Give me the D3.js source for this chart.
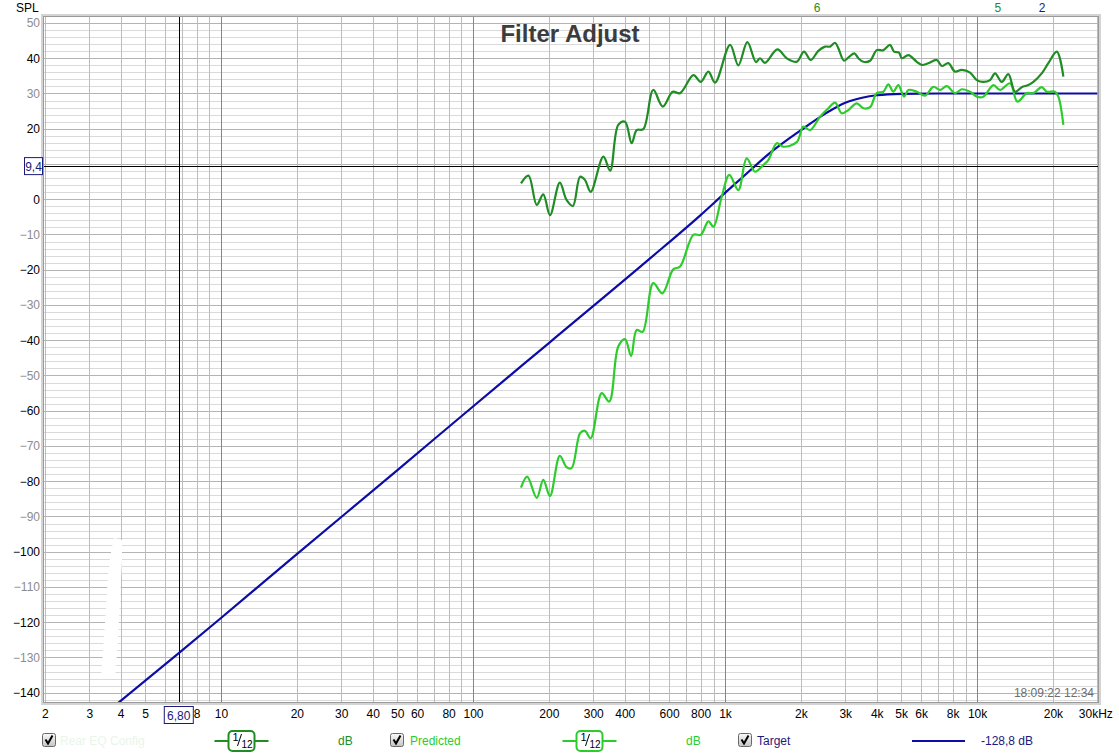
<!DOCTYPE html>
<html><head><meta charset="utf-8">
<script src="https://cdn.jsdelivr.net/npm/d3@7"></script>
<style>body{margin:0;background:#fff;} svg{display:block;font-family:"Liberation Sans",Arial,sans-serif;}</style>
</head><body><svg id="c" width="1119" height="755"></svg>
<script>
// ---------- data ----------
const measFreq = [155,166,179,190,202,221,235,249,266,278,293,329,350,377,401,426,446,474,519,566,620,663,749,801,859,913,1047,1129,1226,1327,1377,1441,1613,1757,1925,2058,2188,2345,2494,2611,2733,2817,2967,3106,3260,3381,3539,3762,3999,4248,4516,4684,4903,5026,5339,5764,6034,6407,6920,7244,7692,8176,8697,9380,9972,10590,11260,11790,12530,13310,14150,15040,15980,16730,18060,19180,20720,22000];
const measDb = [4.5,6.7,-1.6,1.4,-4.5,4.7,-0.2,-1.9,6.4,5.5,2.1,12.1,8.1,21.1,22.0,15.9,19.6,19.9,31.0,26.3,30.5,30.1,35.2,33.3,36.2,33.1,43.8,38.0,44.6,38.9,40.0,38.7,42.5,40.0,39.0,41.9,39.5,42.1,43.3,43.3,44.4,42.8,39.3,40.4,41.4,40.0,39.0,39.3,42.3,42.3,43.8,41.9,41.6,40.0,40.9,39.0,38.1,38.6,39.5,37.8,38.6,36.2,36.7,35.9,33.8,33.3,33.8,35.7,33.3,35.5,30.5,31.8,32.4,33.3,35.7,38.6,41.9,34.8];

const predFreq = [155,164,179,190,202,221,235,246,266,278,293,324,347,377,401,424,446,471,519,564,623,663,749,801,859,899,970,1040,1129,1219,1315,1419,1485,1604,1703,1925,2045,2175,2382,2570,2733,2905,3085,3331,3539,3762,3999,4248,4446,4655,4873,5132,5339,5764,6219,6708,7133,7583,8176,8697,9380,9972,10590,11610,12340,13520,14450,15750,16730,18060,18910,20390,21020,22000];
const predDb = [-81.8,-78.7,-84.7,-79.6,-84.2,-72.8,-76.0,-76.3,-66.4,-65.7,-67.8,-55.0,-57.4,-41.8,-39.7,-44.5,-37.1,-37.6,-23.8,-26.7,-19.9,-19.1,-10.1,-10.1,-6.3,-7.8,0.7,6.9,2.6,11.6,7.8,9.7,11.1,15.9,14.9,16.2,20.6,19.6,23.4,25.8,27.4,24.4,25.3,27.2,25.8,26.1,30.1,30.5,32.6,30.5,32.4,29.1,31.0,30.5,29.4,31.9,31.0,32.1,30.1,31.2,30.5,29.1,29.1,32.4,31.0,32.9,27.7,30.1,30.1,31.8,30.5,30.5,29.1,21.1];

const targetFreq = [3.5,6.8,10,20,50,100,200,500,800,1000,1250,1500,2000,2500,3000,3500,4000,5000,7000,30000];
const targetDb = [-145.7,-128.8,-118.8,-100.7,-76.9,-58.8,-40.8,-17.0,-4.5,1.8,8,13,19.6,24.3,27.4,28.8,29.5,29.9,30,30];

const xTickValues = [2,3,4,5,8,10,20,30,40,50,60,80,100,200,300,400,600,800,1000,2000,3000,4000,5000,6000,8000,10000,20000,30000];
const xTickLabels = ["2","3","4","5","8","10","20","30","40","50","60","80","100","200","300","400","600","800","1k","2k","3k","4k","5k","6k","8k","10k","20k","30kHz"];
const yTickValues = [50,40,30,20,0,-10,-20,-30,-40,-50,-60,-70,-80,-90,-100,-110,-120,-130,-140];

const markerFreq = [2320, 12100, 18100];
const markerLabels = ["6","5","2"];

const cursorFreq = 6.8, cursorDb = 9.4;
const cursorFreqLabel = "6,80", cursorDbLabel = "9,4";
const targetLegendValue = "-128,8 dB";
const timestamp = "18:09:22 12:34";

// ---------- styles ----------
const C_MEAS = "#1f8c24", C_PRED = "#2ccc2c", C_TGT = "#0c0ca6", C_NAVY = "#1a1a7a";

const svg = d3.select("#c");
const L = 44, R = 1098, T = 17, B = 702;
const x = d3.scaleLog().domain([2, 30000]).range([44.85, 1097.3]);
const y = d3.scaleLinear().domain([-140, 50]).range([692.7, 23]);

svg.append("defs").append("clipPath").attr("id","clip")
  .append("rect").attr("x",L).attr("y",T).attr("width",R-L).attr("height",B-T);

svg.append("rect").attr("x",L).attr("y",T).attr("width",R-L).attr("height",B-T).attr("fill","#fff");

const grid = svg.append("g").attr("clip-path","url(#clip)");
d3.range(-142, 52, 2).forEach(v => {
  const major = v % 10 === 0;
  grid.append("line").attr("x1",L).attr("x2",R).attr("y1",Math.round(y(v))+0.5).attr("y2",Math.round(y(v))+0.5)
    .attr("stroke", major ? "#b4b4b4" : "#dadada").attr("stroke-width",1);
});
const vgrid = [];
[1,10,100,1000,10000].forEach(d => { for (let m=1;m<=9;m++) { const f=d*m; if (f>=2 && f<=30000) vgrid.push(f);} });
vgrid.forEach(f => {
  const dec = Math.abs(Math.log10(f) - Math.round(Math.log10(f))) < 1e-9;
  grid.append("line").attr("y1",T).attr("y2",B).attr("x1",Math.round(x(f))+0.5).attr("x2",Math.round(x(f))+0.5)
    .attr("stroke", dec ? "#868686" : "#bcbcbc").attr("stroke-width",1);
});

svg.append("text").attr("x",1094).attr("y",697).attr("text-anchor","end").attr("font-size",12)
  .attr("fill","#6e6e6e").text(timestamp);

svg.append("path").attr("d","M114,538 L122,540 L122,560 L120,600 L118,640 L115,679 L101,679 L103,650 L106,610 L108,575 L111,552 Z")
  .attr("fill","#fff").attr("clip-path","url(#clip)");

svg.append("line").attr("x1",L).attr("x2",R).attr("y1",Math.round(y(cursorDb))+0.5).attr("y2",Math.round(y(cursorDb))+0.5).attr("stroke","#000");
svg.append("line").attr("y1",T).attr("y2",B).attr("x1",Math.round(x(cursorFreq))+0.5).attr("x2",Math.round(x(cursorFreq))+0.5).attr("stroke","#000");

const line = d3.line().x(d => x(d[0])).y(d => y(d[1])).curve(d3.curveCatmullRom.alpha(0.5));
const plot = svg.append("g").attr("clip-path","url(#clip)");
plot.append("path").datum(targetFreq.map((f,i)=>[f,targetDb[i]]))
  .attr("d", d3.line().x(d=>x(d[0])).y(d=>y(d[1])).curve(d3.curveMonotoneX))
  .attr("fill","none").attr("stroke",C_TGT).attr("stroke-width",2.2);
plot.append("path").datum(predFreq.map((f,i)=>[f,predDb[i]])).attr("d",line)
  .attr("fill","none").attr("stroke",C_PRED).attr("stroke-width",2.2).attr("stroke-linejoin","round");
plot.append("path").datum(measFreq.map((f,i)=>[f,measDb[i]])).attr("d",line)
  .attr("fill","none").attr("stroke",C_MEAS).attr("stroke-width",2.2).attr("stroke-linejoin","round");

svg.append("rect").attr("x",L-2).attr("y",T-2).attr("width",R-L+4).attr("height",B-T+4)
  .attr("fill","none").attr("stroke","#d4d4d4").attr("stroke-width",2);
svg.append("rect").attr("x",L-0.5).attr("y",T-0.5).attr("width",R-L+1).attr("height",B-T+1)
  .attr("fill","none").attr("stroke","#9a9a9a").attr("stroke-width",1);

const yAxis = d3.axisLeft(y).tickValues(yTickValues).tickSize(0).tickPadding(0).tickFormat(d3.format("d"));
const yg = svg.append("g").attr("transform","translate(40,0)").call(yAxis);
yg.select(".domain").remove();
yg.selectAll("text").attr("font-size",12).attr("font-family","Liberation Sans, Arial, sans-serif")
  .attr("fill", d => (Math.abs(d) % 20 === 0) ? "#000" : "#8c8c8c");

const xAxis = d3.axisBottom(x).tickValues(xTickValues).tickSize(0).tickPadding(0).tickFormat((d,i)=>xTickLabels[i]);
const xg = svg.append("g").attr("transform","translate(0,709)").call(xAxis);
xg.select(".domain").remove();
xg.selectAll("text").attr("font-size",12).attr("font-family","Liberation Sans, Arial, sans-serif").attr("fill","#000")
  .attr("dy","0.71em");
xg.selectAll(".tick").filter(d=>d===30000).select("text").attr("dx","-2");

svg.append("text").attr("x",16).attr("y",12).attr("font-size",12).attr("fill","#000").text("SPL");

svg.append("text").attr("x",570).attr("y",42).attr("text-anchor","middle").attr("font-size",24)
  .attr("font-weight","bold").attr("fill","#3c3c3c").text("Filter Adjust");

markerFreq.forEach((f,i)=>{
  svg.append("text").attr("x",x(f)).attr("y",12).attr("text-anchor","middle").attr("font-size",12)
    .attr("fill", i===2 ? C_NAVY : C_MEAS).text(markerLabels[i]);
});

const yb = svg.append("g");
yb.append("rect").attr("x",24.5).attr("y",y(cursorDb)-8.5).attr("width",18).attr("height",17).attr("fill","#fff").attr("stroke",C_NAVY);
yb.append("text").attr("x",33.5).attr("y",y(cursorDb)+4.5).attr("text-anchor","middle").attr("font-size",12).attr("fill",C_NAVY).text(cursorDbLabel);
const xb = svg.append("g");
xb.append("rect").attr("x",x(cursorFreq)-14.5).attr("y",706.5).attr("width",29).attr("height",17).attr("fill","#fff").attr("stroke",C_NAVY);
xb.append("text").attr("x",x(cursorFreq)).attr("y",719.5).attr("text-anchor","middle").attr("font-size",12).attr("fill",C_NAVY).text(cursorFreqLabel);

const grad = svg.select("defs").append("linearGradient").attr("id","cb").attr("x1",0).attr("y1",0).attr("x2",0).attr("y2",1);
grad.append("stop").attr("offset","0").attr("stop-color","#fafafa");
grad.append("stop").attr("offset","1").attr("stop-color","#c4c4c4");
function checkbox(cx){
  const g = svg.append("g");
  g.append("rect").attr("x",cx+0.5).attr("y",733.5).attr("width",13).attr("height",13).attr("rx",2)
    .attr("fill","url(#cb)").attr("stroke","#6a6a6a");
  g.append("path").attr("d",`M${cx+3.5},739.5 L${cx+6},743.5 L${cx+10.5},735.5`).attr("fill","none")
    .attr("stroke","#000").attr("stroke-width",2);
}
function smooth(cx,color){
  const g = svg.append("g");
  g.append("line").attr("x1",cx-27).attr("x2",cx+27).attr("y1",741).attr("y2",741).attr("stroke",color).attr("stroke-width",2);
  g.append("rect").attr("x",cx-13).attr("y",731).attr("width",26).attr("height",20).attr("rx",4)
    .attr("fill","#fff").attr("stroke",color).attr("stroke-width",2);
  g.append("text").attr("x",cx-9).attr("y",741).attr("font-size",11).attr("fill","#000").text("1");
  g.append("line").attr("x1",cx-4).attr("y1",746).attr("x2",cx).attr("y2",734).attr("stroke","#000").attr("stroke-width",1);
  g.append("text").attr("x",cx).attr("y",748).attr("font-size",10).attr("fill","#000").text("12");
}
checkbox(42);
svg.append("text").attr("x",60).attr("y",745).attr("font-size",12).attr("fill","#eaf5ea").text("Rear EQ  Config");
smooth(241.5, C_MEAS);
svg.append("text").attr("x",338).attr("y",745).attr("font-size",12).attr("fill",C_MEAS).text("dB");
checkbox(390);
svg.append("text").attr("x",410).attr("y",745).attr("font-size",12).attr("fill",C_PRED).text("Predicted");
smooth(589.5, C_PRED);
svg.append("text").attr("x",686).attr("y",745).attr("font-size",12).attr("fill",C_PRED).text("dB");
checkbox(738);
svg.append("text").attr("x",757).attr("y",745).attr("font-size",12).attr("fill",C_NAVY).text("Target");
svg.append("line").attr("x1",912).attr("x2",965).attr("y1",741).attr("y2",741).attr("stroke",C_TGT).attr("stroke-width",2);
svg.append("text").attr("x",981).attr("y",745).attr("font-size",12).attr("fill",C_NAVY).text(targetLegendValue);
</script></body></html>
